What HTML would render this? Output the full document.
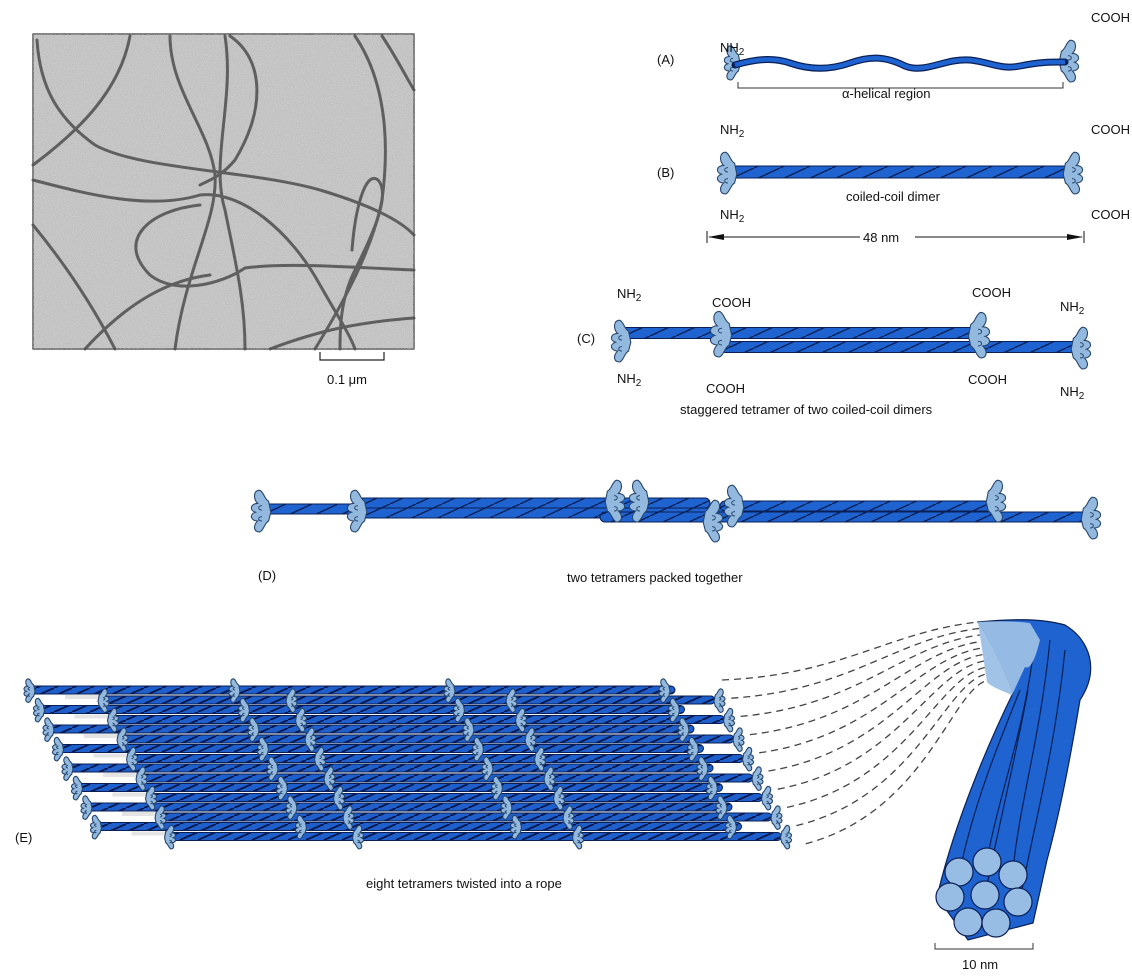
<!DOCTYPE html>
<html><head><meta charset="utf-8">
<style>
html,body{margin:0;padding:0;background:#fff;}
svg{display:block;font-family:"Liberation Sans",Arial,sans-serif;}
text{font-size:13px;fill:#111;}
</style></head>
<body>
<svg id="s" width="1132" height="978" viewBox="0 0 1132 978" xmlns="http://www.w3.org/2000/svg">
<defs>
<filter id="noise" x="0" y="0" width="100%" height="100%">
<feTurbulence type="fractalNoise" baseFrequency="0.9" numOctaves="2" seed="3"/>
<feColorMatrix type="matrix" values="0 0 0 0 0.72  0 0 0 0 0.72  0 0 0 0 0.72  0 0 0 -1.6 1.2"/>
</filter>
<pattern id="tw" width="26" height="12" patternUnits="userSpaceOnUse">
<rect width="26" height="12" fill="#1e63d0"/><path d="M-26,12 L0,0 M0,12 L26,0 M26,12 L52,0" stroke="#0a1f55" stroke-width="1.4"/>
</pattern>
<pattern id="tw2" width="18" height="8" patternUnits="userSpaceOnUse">
<rect width="18" height="8" fill="#1e5fcc"/><path d="M-18,8 L0,0 M0,8 L18,0 M18,8 L36,0" stroke="#06164a" stroke-width="1.8"/>
</pattern>
</defs>

<!-- micrograph -->
<rect x="33" y="34" width="381" height="315" fill="#bdbdbd" stroke="#333" stroke-width="1.2"/>
<rect x="33" y="34" width="381" height="315" filter="url(#noise)" opacity="0.6"/>
<g fill="none" stroke="#4e4e4e" stroke-width="3" stroke-linecap="round" opacity="0.85">
<path d="M37,40 C40,90 60,120 95,145 C140,170 250,170 320,190 C370,205 400,220 414,235"/>
<path d="M130,36 C120,90 80,130 33,165"/>
<path d="M170,36 C170,90 210,130 215,175 C218,220 185,270 175,349"/>
<path d="M225,36 C235,100 210,160 225,210 C235,260 245,300 245,349"/>
<path d="M230,36 C265,60 265,110 235,160 C220,178 205,182 200,185"/>
<path d="M33,180 C90,195 150,210 200,195 C240,190 290,230 320,285 C340,320 350,335 355,349"/>
<path d="M200,205 C150,210 115,240 150,275 C175,295 220,285 245,268 C290,262 360,268 414,270"/>
<path d="M33,225 C70,270 95,310 115,349"/>
<path d="M355,36 C385,80 390,140 382,200 C372,250 345,300 315,349"/>
<path d="M382,36 C395,55 405,75 414,90"/>
<path d="M352,250 C355,210 365,170 378,180 C392,195 370,240 355,270 C340,300 340,330 340,349"/>
<path d="M85,349 C130,300 170,280 210,275"/>
<path d="M270,349 C320,330 360,322 414,318"/>
</g>
<g stroke="#222" stroke-width="1.2" fill="none"><path d="M320,352 V360 H384 V352"/></g>
<text x="327" y="384">0.1 μm</text>

<g id="tp"></g>

<!-- (A) -->
<text x="657" y="64">(A)</text>
<text x="720" y="52">NH<tspan font-size="10" dy="3">2</tspan></text>
<text x="1091" y="22">COOH</text>
<path d="M735,65 C760,58 775,58 790,63 C810,70 830,70 850,63 C870,56 885,56 905,66 C925,74 945,58 970,60 C990,62 1000,70 1020,66 C1040,62 1050,62 1065,62" fill="none" stroke="#0a1f55" stroke-width="7" stroke-linecap="round"/>
<path d="M735,65 C760,58 775,58 790,63 C810,70 830,70 850,63 C870,56 885,56 905,66 C925,74 945,58 970,60 C990,62 1000,70 1020,66 C1040,62 1050,62 1065,62" fill="none" stroke="#1e63d0" stroke-width="4.5"/>
<path d="M738,82 V88 H1063 V82" fill="none" stroke="#333" stroke-width="1"/>
<text x="842" y="98">α-helical region</text>

<!-- (B) -->
<text x="657" y="177">(B)</text>
<text x="720" y="134">NH<tspan font-size="10" dy="3">2</tspan></text>
<text x="720" y="219">NH<tspan font-size="10" dy="3">2</tspan></text>
<text x="1091" y="134">COOH</text>
<text x="1091" y="219">COOH</text>
<text x="846" y="201">coiled-coil dimer</text>
<g stroke="#111" stroke-width="1"><line x1="707" y1="231" x2="707" y2="243"/><line x1="1084" y1="231" x2="1084" y2="243"/>
<line x1="709" y1="237" x2="860" y2="237"/><line x1="915" y1="237" x2="1082" y2="237"/></g>
<polygon points="708,237 724,234 724,240" fill="#111"/><polygon points="1083,237 1067,234 1067,240" fill="#111"/>
<text x="863" y="242">48 nm</text>

<!-- (C) -->
<text x="577" y="343">(C)</text>
<text x="617" y="298">NH<tspan font-size="10" dy="3">2</tspan></text>
<text x="617" y="383">NH<tspan font-size="10" dy="3">2</tspan></text>
<text x="712" y="307">COOH</text>
<text x="706" y="393">COOH</text>
<text x="972" y="297">COOH</text>
<text x="968" y="384">COOH</text>
<text x="1060" y="311">NH<tspan font-size="10" dy="3">2</tspan></text>
<text x="1060" y="396">NH<tspan font-size="10" dy="3">2</tspan></text>
<text x="680" y="414">staggered tetramer of two coiled-coil dimers</text>

<!-- (D) -->
<text x="258" y="580">(D)</text>
<text x="567" y="582">two tetramers packed together</text>

<!-- (E) -->
<text x="15" y="842">(E)</text>
<text x="366" y="888">eight tetramers twisted into a rope</text>
<g id="E"></g>

<!-- dashed curves -->
<g id="dash" fill="none" stroke="#444" stroke-width="1.3" stroke-dasharray="7 5"></g>

<!-- bundle -->
<path d="M937,897 C955,820 990,740 1013,693 C1005,670 990,640 978,622 C1010,619 1040,618 1065,625 C1090,640 1100,670 1080,700 C1070,760 1058,820 1047,860 L1033,923 L968,940 Z" fill="#1e63d0" stroke="#0a1f55" stroke-width="1.2"/>
<g fill="none" stroke="#0a1f55" stroke-width="1.2">
<path d="M960,870 C975,800 1000,740 1020,690"/>
<path d="M987,860 C1000,790 1025,730 1035,640"/>
<path d="M1013,870 C1020,800 1040,740 1050,640"/>
<path d="M1020,900 C1035,820 1055,750 1065,650"/>
<path d="M985,895 C1000,820 1015,760 1028,690"/>
</g>
<path d="M978,622 C995,621 1015,621 1030,623 L1040,640 C1035,660 1030,670 1025,667 L1012,695 C1000,690 990,686 987,682 Z" fill="#9cc0e6" opacity="0.95"/>
<g fill="#98bde4" stroke="#0a1f55" stroke-width="1.2">
<circle cx="987" cy="862" r="14"/><circle cx="1013" cy="875" r="14"/><circle cx="959" cy="872" r="14"/>
<circle cx="985" cy="895" r="14"/><circle cx="950" cy="897" r="14"/><circle cx="1018" cy="902" r="14"/>
<circle cx="968" cy="922" r="14"/><circle cx="996" cy="923" r="14"/>
</g>
<path d="M935,943 V949 H1033 V943" fill="none" stroke="#333" stroke-width="1"/>
<text x="962" y="969">10 nm</text>
</svg>
<script>
(function(){
var NS="http://www.w3.org/2000/svg";
function el(p,t,a){var e=document.createElementNS(NS,t);for(var k in a)e.setAttribute(k,a[k]);p.appendChild(e);return e;}
var T=document.getElementById('tp'),E=document.getElementById('E');
function rope(p,x1,x2,y,h,pat){el(p,'rect',{x:x1,y:y-h/2,width:x2-x1,height:h,rx:h/2,fill:'url(#'+(pat||'tw')+')',stroke:'#0a1f55','stroke-width':1});}
function head(p,x,y,s,dir){
  var g=el(p,'g',{transform:'translate('+x+','+y+') scale('+(s*dir)+','+s+')'});
  el(g,'path',{d:'M-2,-18 C-8,-18 -8,-10 -4,-6 C-10,-6 -12,0 -6,2 C-12,4 -10,10 -4,10 C-8,14 -8,20 -2,20 C2,18 2,12 6,10 L8,2 L6,-8 C2,-10 2,-16 -2,-18Z',fill:'#94b9df',stroke:'#26466e','stroke-width':1.1/s});
  el(g,'path',{d:'M0,-4 C-4,-4 -4,0 0,0 M0,6 C-4,6 -4,10 0,10',fill:'none',stroke:'#26466e','stroke-width':1/s});
}
rope(T,728,1070,172,12);
head(T,728,172,1.1,1);head(T,1072,172,1.1,-1);
rope(T,620,980,333,11);rope(T,720,1080,347,11);
head(T,622,340,1.1,1);head(T,722,333,1.2,1);head(T,978,334,1.2,-1);head(T,1080,347,1.1,-1);
head(T,733,62,0.9,1);head(T,1068,60,1.1,-1);
rope(T,260,610,509,10);rope(T,360,960,513,10);rope(T,355,710,503,10);rope(T,600,1095,517,10);rope(T,720,1000,506,10);
[[262,510,1],[358,510,1],[614,500,-1],[640,500,1],[712,520,-1],[735,505,1],[995,500,-1],[1090,517,-1]].forEach(function(h){head(T,h[0],h[1],1.1,h[2]);});
var i,y,x;
for(i=0;i<8;i++){y=690+i*19.5;x=25+i*9.5;
  el(E,'rect',{x:x+40,y:y+5,width:600,height:4,fill:'#e4e4e4'});}
for(i=0;i<8;i++){y=690+i*19.5;x=25+i*9.5;
  rope(E,x,x+650,y,8,'tw2');
  rope(E,x+75,x+690,y+10,8,'tw2');}
for(i=0;i<8;i++){(function(y,x){
  [0,205,420,635].forEach(function(o){head(E,x+o+5,y,0.62,1);});
  [72,260,480,688].forEach(function(o){head(E,x+o+6,y+10,0.62,-1);});
})(690+i*19.5,25+i*9.5);}
var D=document.getElementById('dash');
for(i=0;i<10;i++){
  var sx=722+i*9.3,sy=680+i*18.2,ex=978+i*1.0,ey=622+i*6.5;
  el(D,'path',{d:'M'+sx+','+sy+' C'+(sx+120)+','+(sy-5-i*3)+' '+(ex-90+i*6)+','+(ey+10)+' '+ex+','+ey});
}
})();
</script>
</body></html>
